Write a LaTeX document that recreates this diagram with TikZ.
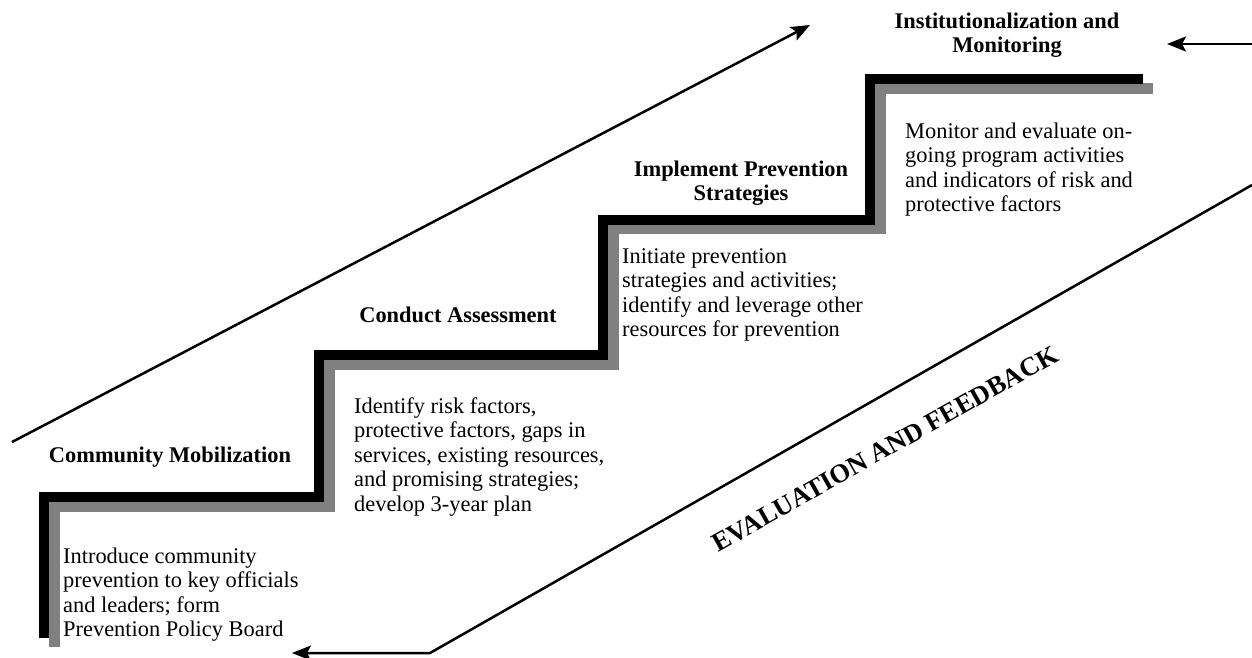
\documentclass[tikz,border=0pt]{standalone}
\usepackage{fontspec}
\setmainfont{Liberation Serif}
\usetikzlibrary{arrows.meta}
\begin{document}
\begin{tikzpicture}[x=1pt,y=-1pt,
  body/.style={inner sep=0pt, align=left, font=\fontsize{22.4}{24.5}\selectfont, anchor=base west},
  head/.style={inner sep=0pt, align=center, font=\fontsize{22.4}{24.5}\selectfont\bfseries, anchor=base},
  arr/.style={line width=2.5pt, -{Stealth[length=19pt,width=15pt,inset=4pt]}},
  stairblack/.style={line width=10pt, line cap=butt, line join=miter, black},
  stairgray/.style={line width=11pt, line cap=butt, line join=miter, color={rgb,255:red,128;green,128;blue,128}}]
\useasboundingbox (0,0) rectangle (1252,657);
% staircase
\draw[stairgray] (54,647) -- (54,506) -- (329,506) -- (329,364) -- (613,364) -- (613,228.5) -- (880,228.5) -- (880,88) -- (1153,88);
\draw[stairblack] (44,638) -- (44,497) -- (319,497) -- (319,355) -- (603,355) -- (603,219.5) -- (870,219.5) -- (870,79) -- (1143,79);
% headings (base = last line)
\node[head] (h1) at (170,462) {Community Mobilization};
\node[head] (h2) at (458,322) {Conduct Assessment};
\node[head] (h3) at (741,200.5) {Implement Prevention\\Strategies};
\node[head] (h4) at (1007,52.5) {Institutionalization and\\Monitoring};
% bodies (base = last line)
\node[body] (b1) at (63,636.5) {Introduce community\\prevention to key officials\\and leaders; form\\Prevention Policy Board};
\node[body] (b2) at (354,511) {Identify risk factors,\\protective factors, gaps in\\services, existing resources,\\and promising strategies;\\develop 3-year plan};
\node[body] (b3) at (622,336.5) {Initiate prevention\\strategies and activities;\\identify and leverage other\\resources for prevention};
\node[body] (b4) at (905,211.5) {Monitor and evaluate on-\\going program activities\\and indicators of risk and\\protective factors};
% arrows
\coordinate (u0) at (12,442);
\coordinate (u1) at (810,25);
\draw[arr] (u0) -- (u1);
\coordinate (r0) at (1252,44);
\coordinate (r1) at (1167,44);
\draw[arr] (r0) -- (r1);
\coordinate (l0) at (1252,185);
\coordinate (l1) at (430,653);
\coordinate (l2) at (292,653);
\draw[arr] (l0) -- (l1) -- (l2);
% evaluation label
\node[inner sep=0pt, rotate=29.4, font=\fontsize{26.5}{30}\selectfont\bfseries] (ev) at (885,449) {EVALUATION AND FEEDBACK};
\end{tikzpicture}
\end{document}
